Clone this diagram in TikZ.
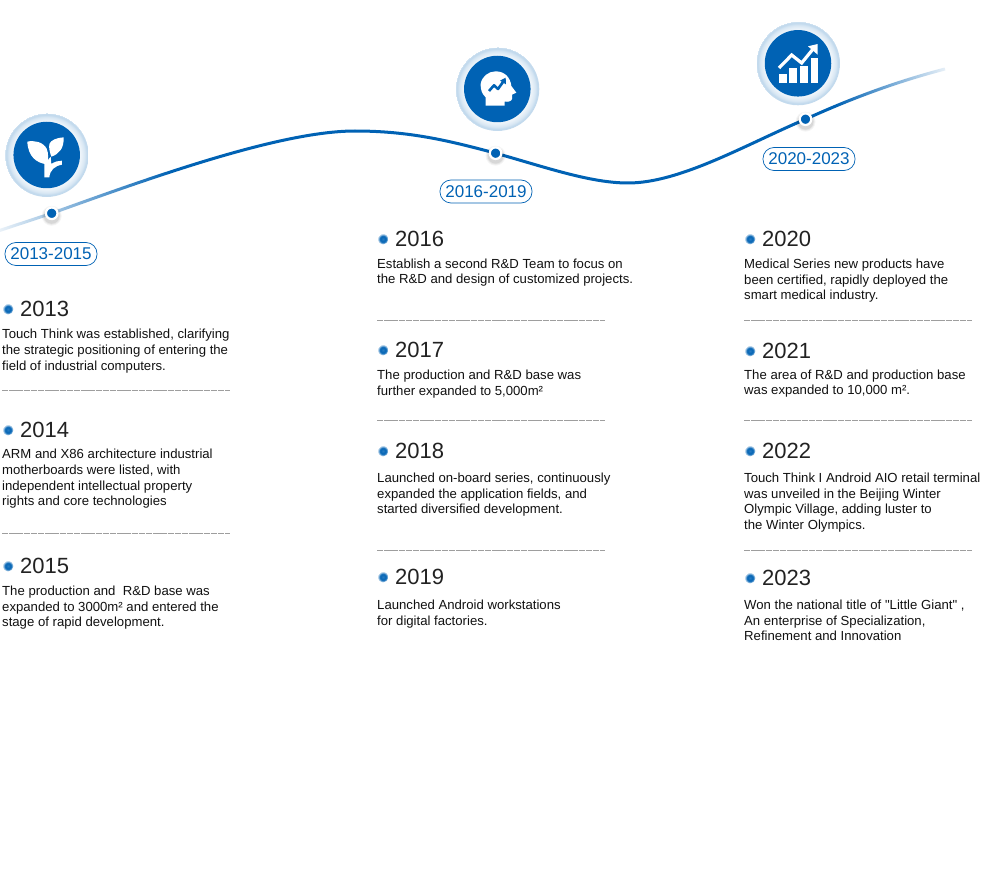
\documentclass[tikz,border=0pt]{standalone}
\usepackage{fontspec}
\setmainfont{Liberation Sans}
\newfontfamily\plainquote{Liberation Sans}
\usetikzlibrary{fadings,shadings}
\definecolor{tblue}{HTML}{0062B4}
\definecolor{txt}{HTML}{111111}
\definecolor{yr}{HTML}{222222}
\pgfdeclareradialshading{ringshade}{\pgfpointorigin}{
  color(0bp)=(white);
  color(19bp)=(tblue!5);
  color(20.5bp)=(tblue!8);
  color(22.5bp)=(tblue!15);
  color(24.2bp)=(tblue!26);
  color(25bp)=(tblue!16)}
\pgfdeclareradialshading{bulletshade}{\pgfpointorigin}{
  color(0bp)=(tblue!85);
  color(14bp)=(tblue);
  color(18bp)=(tblue!60);
  color(22bp)=(tblue!32);
  color(25bp)=(tblue!12)}
\tikzfading[name=fadeleft,left color=transparent!8,right color=transparent!100]
\tikzfading[name=faderight,left color=transparent!100,right color=transparent!5]
\tikzset{
  ringdisc/.style={circle,inner sep=0pt,minimum size=84pt,shading=ringshade},
  coredisc/.style={circle,inner sep=0pt,minimum size=66.5pt,fill=tblue},
  curve/.style={draw=tblue,line width=3pt},
  dotnode/.style={circle,inner sep=0pt,minimum size=11.6pt,fill=tblue,draw=white,line width=2.2pt},
  pill/.style={draw=tblue,line width=0.7pt,rounded corners=11pt,inner sep=0pt,minimum width=92pt,minimum height=23pt,text=tblue,font=\fontsize{17}{19}\selectfont},
  bullet/.style={circle,inner sep=0pt,minimum size=11pt,shading=bulletshade},
  yearlabel/.style={anchor=base west,inner sep=0pt,text=yr,font=\fontsize{22}{24}\selectfont},
  bodyline/.style={anchor=base west,inner sep=0pt,text=txt,font=\fontsize{13.15}{15}\selectfont},
  sepline/.style={draw=black!38,line width=0.7pt,dash pattern=on 6.4pt off 0.8pt},
  iconfill/.style={fill=white,draw=none},
  iconpart/.style={x=0.3333pt,y=-0.3333pt}
}
\newcommand{\yearhead}[4]{% name, bullet x, center y, year
  \node[bullet] (b#1) at (#2,#3) {};
  \node[yearlabel] (y#1) at (#2+12,#3+7.5) {#4};}
\newcommand{\bodytext}[3]{\node[bodyline] at (#1,#2+4.6) {#3};}
\begin{document}
\begin{tikzpicture}[x=1pt,y=-1pt]
\useasboundingbox (0,0) rectangle (985,869);
\fill[white] (0,0) rectangle (985,869);

% curve anchors
\coordinate (cstart) at (-2,231);
\coordinate (pk) at (355,131);
\coordinate (tr) at (628,183);
\coordinate (cend) at (945,69);
\coordinate (d1) at (51.7,213.3);
\coordinate (d2) at (495.6,153.2);
\coordinate (d3) at (805.5,119.2);

\draw[curve] (cstart) -- (d1)
  .. controls (150,178) and (280,131) .. (pk)
  .. controls (410,131) and (450,141) .. (d2)
  .. controls (545,167) and (590,183) .. (tr)
  .. controls (680,183) and (745,145) .. (d3)
  .. controls (850,99) and (895,82) .. (cend);
\fill[white,path fading=fadeleft] (-1,160) rectangle (170,240);
\fill[white,path fading=faderight] (835,50) rectangle (950,115);

% dots
\foreach \p/\n in {d1/dota,d2/dotb,d3/dotc}{
  \foreach \r/\o in {10/.04,9/.05,8/.07}
    \fill[black,opacity=\o] ([yshift=-2.5pt]\p) circle[radius=\r];
  \node[dotnode] (\n) at (\p) {};
}

% medallions
\node[ringdisc] (ra) at (46.7,155) {};
\node[coredisc] (ca) at (46.7,155) {};
\node[ringdisc] (rb) at (497.3,89) {};
\node[coredisc] (cb) at (497.3,89) {};
\node[ringdisc] (rc) at (798,63.3) {};
\node[coredisc] (cc) at (798,63.3) {};

% sprout
\begin{scope}[shift={(20,130)},iconpart]
 \fill[iconfill] (22,35) .. controls (42,30) and (70,36) .. (80,56)
   .. controls (86,70) and (85,88) .. (82,103)
   .. controls (50,100) and (24,80) .. (22,35) -- cycle;
 \fill[iconfill] (131,22) .. controls (112,23) and (92,30) .. (88,42)
   .. controls (86,55) and (90,68) .. (94,80)
   .. controls (118,72) and (132,55) .. (131,22) -- cycle;
 \fill[iconfill] (73,142) -- (73,100) -- (84,90) -- (92,80) -- (94,102)
   .. controls (104,95) and (115,92) .. (126,92)
   -- (126,104) .. controls (104,108) and (90,120) .. (88,142) -- cycle;
\end{scope}

% head
\begin{scope}[shift={(470,62)},iconpart]
 \fill[iconfill] (47,131) -- (47,106) .. controls (36,96) and (31,82) .. (32,66)
   .. controls (35,44) and (55,28) .. (77,28)
   .. controls (105,28) and (121,47) .. (124,72)
   -- (139,92) -- (126,98) -- (126,111)
   .. controls (124,119) and (114,120) .. (104,119) -- (104,131) -- cycle;
 \draw[tblue,line width=2.6pt,line join=round] (57,87) -- (72,70) -- (84,81) -- (99,60);
 \fill[tblue] (107,47) -- (108,67) -- (90,56) -- cycle;
\end{scope}

% chart
\begin{scope}[shift={(770,36)},iconpart]
 \fill[iconfill] (28,115) rectangle (50,142);
 \fill[iconfill] (58,97) rectangle (82,142);
 \fill[iconfill] (90,90) rectangle (113,142);
 \fill[iconfill] (122,67) rectangle (144,142);
 \draw[white,line width=3.2pt,line join=miter] (27,96) -- (65,57) -- (95,81) -- (130,38);
 \fill[iconfill] (143,24) -- (143,56) -- (114,31) -- cycle;
\end{scope}

% pills
\node[pill] (pa) at (51,254) {2013-2015};
\node[pill] (pb) at (486,191.5) {2016-2019};
\node[pill] (pc) at (809,159) {2020-2023};

% column 1
\yearhead{13}{8}{309}{2013}
\bodytext{2}{334}{Touch Think was established, clarifying}
\bodytext{2}{350}{the strategic positioning of entering the}
\bodytext{2}{366}{field of industrial computers.}
\draw[sepline] (2,390) -- (230,390);
\yearhead{14}{8}{430}{2014}
\bodytext{2}{454}{ARM and X86 architecture industrial}
\bodytext{2}{470}{motherboards were listed, with}
\bodytext{2}{486}{independent intellectual property}
\bodytext{2}{501}{rights and core technologies}
\draw[sepline] (2,533) -- (230,533);
\yearhead{15}{8}{566}{2015}
\bodytext{2}{591}{The production and\ \ R\&D base was}
\bodytext{2}{607}{expanded to 3000m² and entered the}
\bodytext{2}{622}{stage of rapid development.}

% column 2
\yearhead{16}{383}{239}{2016}
\bodytext{377}{264}{Establish a second R\&D Team to focus on}
\bodytext{377}{279}{the R\&D and design of customized projects.}
\draw[sepline] (377,320) -- (605,320);
\yearhead{17}{383}{350}{2017}
\bodytext{377}{375}{The production and R\&D base was}
\bodytext{377}{391}{further expanded to 5,000m²}
\draw[sepline] (377,420) -- (605,420);
\yearhead{18}{383}{451}{2018}
\bodytext{377}{478}{Launched on-board series, continuously}
\bodytext{377}{494}{expanded the application fields, and}
\bodytext{377}{509}{started diversified development.}
\draw[sepline] (377,550) -- (605,550);
\yearhead{19}{383}{577}{2019}
\bodytext{377}{605}{Launched Android workstations}
\bodytext{377}{621}{for digital factories.}

% column 3
\yearhead{20}{750}{239}{2020}
\bodytext{744}{264}{Medical Series new products have}
\bodytext{744}{280}{been certified, rapidly deployed the}
\bodytext{744}{295}{smart medical industry.}
\draw[sepline] (744,320) -- (972,320);
\yearhead{21}{750}{351}{2021}
\bodytext{744}{375}{The area of R\&D and production base}
\bodytext{744}{390}{was expanded to 10,000 m².}
\draw[sepline] (744,420) -- (972,420);
\yearhead{22}{750}{451}{2022}
\bodytext{744}{478}{Touch Think I Android AIO retail terminal}
\bodytext{744}{494}{was unveiled in the Beijing Winter}
\bodytext{744}{509}{Olympic Village, adding luster to}
\bodytext{744}{525}{the Winter Olympics.}
\draw[sepline] (744,550) -- (972,550);
\yearhead{23}{750}{578}{2023}
\bodytext{744}{605}{Won the national title of {\plainquote "}Little Giant{\plainquote "} ,}
\bodytext{744}{621}{An enterprise of Specialization,}
\bodytext{744}{636}{Refinement and Innovation}
\end{tikzpicture}
\end{document}
